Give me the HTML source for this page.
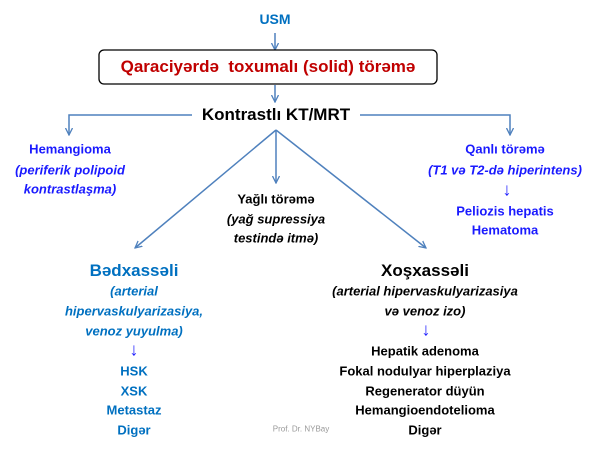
<!DOCTYPE html>
<html><head><meta charset="utf-8"><style>
body{margin:0;width:600px;height:450px;background:#fff;position:relative;overflow:hidden;font-family:"Liberation Sans",sans-serif;font-weight:bold}
.t{position:absolute;white-space:nowrap;transform:translate(-50%,-50%);font-size:13px}
.i{font-style:italic}
.b{color:#0070c0}.bb{color:#1a1aff}.k{color:#000}
.ar{font-size:18px;font-weight:normal}
</style></head><body>
<svg width="600" height="450" style="position:absolute;left:0;top:0">
<defs><marker id="a" markerWidth="8" markerHeight="8" refX="7" refY="4" orient="auto" markerUnits="userSpaceOnUse"><path d="M0,0.5 L7,4 L0,7.5" fill="none" stroke="#4f81bd" stroke-width="1.3"/></marker></defs>
<g stroke="#4f81bd" stroke-width="1.5" fill="none">
<line x1="275" y1="33" x2="275" y2="50" marker-end="url(#a)"/>
<line x1="275" y1="85" x2="275" y2="102" marker-end="url(#a)"/>
<polyline points="192,115 69,115 69,135" marker-end="url(#a)"/>
<polyline points="360,115 510,115 510,135" marker-end="url(#a)"/>
<line x1="276" y1="130" x2="135" y2="248" marker-end="url(#a)"/>
<line x1="276" y1="130" x2="276" y2="183" marker-end="url(#a)"/>
<line x1="276" y1="130" x2="426" y2="248" marker-end="url(#a)"/>
</g>
<rect x="99" y="50" width="338" height="34" rx="5" fill="#fff" stroke="#000" stroke-width="1.3"/>
</svg>
<div class="t b" style="left:275px;top:19px;font-size:14px">USM</div>
<div class="t" style="left:268px;top:67px;font-size:17px;color:#c00000">Qaraciyərdə&nbsp; toxumalı (solid) törəmə</div>
<div class="t k" style="left:276px;top:115px;font-size:17px">Kontrastlı KT/MRT</div>
<div class="t bb" style="left:70px;top:149px">Hemangioma</div>
<div class="t bb i" style="left:70px;top:170px">(periferik polipoid</div>
<div class="t bb i" style="left:70px;top:189px">kontrastlaşma)</div>
<div class="t bb" style="left:505px;top:149px">Qanlı törəmə</div>
<div class="t bb i" style="left:505px;top:170px">(T1 və T2-də hiperintens)</div>
<div class="t bb ar" style="left:507px;top:190px">↓</div>
<div class="t bb" style="left:505px;top:211px">Peliozis hepatis</div>
<div class="t bb" style="left:505px;top:230px">Hematoma</div>
<div class="t k" style="left:276px;top:199px">Yağlı törəmə</div>
<div class="t k i" style="left:276px;top:219px">(yağ supressiya</div>
<div class="t k i" style="left:276px;top:238px">testində itmə)</div>
<div class="t b" style="left:134px;top:271px;font-size:17px">Bədxassəli</div>
<div class="t b i" style="left:134px;top:291px">(arterial</div>
<div class="t b i" style="left:134px;top:311px">hipervaskulyarizasiya,</div>
<div class="t b i" style="left:134px;top:331px">venoz yuyulma)</div>
<div class="t bb ar" style="left:134px;top:350px">↓</div>
<div class="t b" style="left:134px;top:371px">HSK</div>
<div class="t b" style="left:134px;top:391px">XSK</div>
<div class="t b" style="left:134px;top:410px">Metastaz</div>
<div class="t b" style="left:134px;top:430px">Digər</div>
<div class="t k" style="left:425px;top:271px;font-size:17px">Xoşxassəli</div>
<div class="t k i" style="left:425px;top:291px">(arterial hipervaskulyarizasiya</div>
<div class="t k i" style="left:425px;top:311px">və venoz izo)</div>
<div class="t bb ar" style="left:426px;top:330px">↓</div>
<div class="t k" style="left:425px;top:351px">Hepatik adenoma</div>
<div class="t k" style="left:425px;top:371px">Fokal nodulyar hiperplaziya</div>
<div class="t k" style="left:425px;top:391px">Regenerator düyün</div>
<div class="t k" style="left:425px;top:410px">Hemangioendotelioma</div>
<div class="t k" style="left:425px;top:430px">Digər</div>
<div class="t" style="left:301px;top:429px;font-size:8px;font-weight:normal;color:#999">Prof. Dr. NYBay</div>
</body></html>
